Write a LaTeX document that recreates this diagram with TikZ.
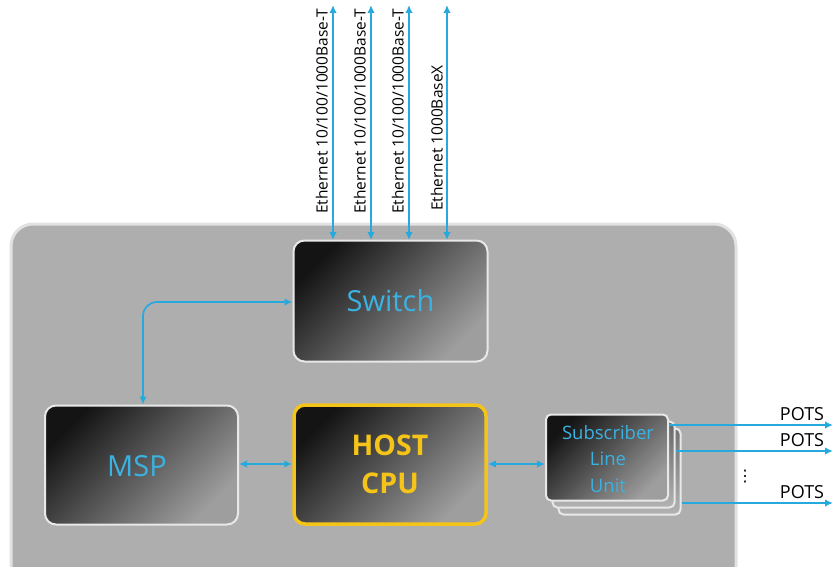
\documentclass[tikz,border=0pt]{standalone}
\usepackage{fontspec}
\setmainfont{Open Sans}
\newfontfamily\dejavu{DejaVu Sans}
\usetikzlibrary{arrows.meta}
\definecolor{linkc}{RGB}{38,170,222}
\definecolor{txtc}{RGB}{58,178,226}
\definecolor{hostc}{RGB}{245,196,24}
\definecolor{panel}{RGB}{174,174,174}
\definecolor{panelb}{RGB}{226,226,226}
\definecolor{boxb}{RGB}{232,232,232}
\tikzset{
  blk/.style={draw=boxb, line width=2pt, rounded corners=11pt, shading=axis,
    top color=black!92, bottom color=black!38, shading angle=45,
    minimum width=#1, inner sep=0pt},
  blk/.default=194pt,
  link/.style={draw=linkc, line width=1.7pt, {Latex[length=8pt,width=7.5pt]}-{Latex[length=8pt,width=7.5pt]}},
  onelink/.style={draw=linkc, line width=1.7pt, -{Latex[length=8pt,width=7.5pt]}},
  eth/.style={rotate=90, anchor=south west, font=\fontsize{15.5}{17}\selectfont, inner sep=0pt},
  pots/.style={font=\fontsize{18}{20}\selectfont, inner sep=0pt}
}
\begin{document}
\begin{tikzpicture}[x=1pt,y=-1pt]
\useasboundingbox (0,0) rectangle (833,567);
% panel
\draw[draw=panelb, fill=panel, line width=3pt, rounded corners=22pt] (11,600) -- (11,224) -- (736,224) -- (736,600);
% Switch
\node[blk, minimum height=121pt] (sw) at (390.5,301) {};
\node[text=txtc, font=\fontsize{29}{32}\selectfont] (swt) at (sw.center) {Switch};
% MSP
\node[blk=193pt, minimum height=119pt] (msp) at (141.5,465) {};
\node[text=txtc, font=\fontsize{29}{32}\selectfont] (mspt) at (137,466) {MSP};
% HOST CPU
\node[blk=192pt, minimum height=119pt, draw=hostc, line width=3.5pt] (cpu) at (390,464.5) {};
\node[text=hostc, font=\bfseries\fontsize{28.5}{38}\selectfont, align=center] (cput) at (cpu.center) {HOST\\CPU};
% SLU stack
\node[blk=122pt, minimum height=86pt, rounded corners=5pt, top color=black!55, bottom color=black!30] (s3) at (619.5,471.5) {};
\node[blk=122pt, minimum height=86pt, rounded corners=5pt, top color=black!60, bottom color=black!30] (s2) at (613.5,464.5) {};
\node[blk=122pt, minimum height=86pt, rounded corners=5pt] (s1) at (607,457.5) {};
\node[text=txtc, font=\fontsize{18.5}{26.5}\selectfont, align=center] (s1t) at (608,459) {Subscriber\\Line\\Unit};
% Ethernet
\foreach \i/\x in {1/333,2/371,3/409,4/447}{
  \coordinate (et\i) at (\x,5);
  \coordinate (eb\i) at (\x,240);
  \draw[link] (et\i) -- (eb\i);
}
\node[eth] (l1) at (328,214) {Ethernet 10/100/1000Base-T};
\node[eth] (l2) at (366,214) {Ethernet 10/100/1000Base-T};
\node[eth] (l3) at (404,214) {Ethernet 10/100/1000Base-T};
\node[eth] (l4) at (443,211) {Ethernet 1000BaseX};
% internal links
\draw[link, rounded corners=14pt] (msp.north -| 143,0) -- (143,302) -- (sw.west |- 0,302);
\draw[link] (msp.east |- 0,464) -- (cpu.west |- 0,464);
\draw[link] (cpu.east |- 0,464) -- (s1.west |- 0,464);
% POTS
\coordinate (p1) at (833,425);
\coordinate (p2) at (833,451);
\coordinate (p3) at (833,503);
\draw[onelink] (s1.east |- 0,425) -- (p1);
\draw[onelink] (s2.east |- 0,451) -- (p2);
\draw[onelink] (s3.east |- 0,503) -- (p3);
\node[pots] (t1) at (802,414) {POTS};
\node[pots] (t2) at (802,440) {POTS};
\node[pots] (t3) at (802,492) {POTS};
\node[font=\dejavu\fontsize{16}{18}\selectfont, inner sep=0pt] (dots) at (745,477) {⋮};
\end{tikzpicture}
\end{document}
